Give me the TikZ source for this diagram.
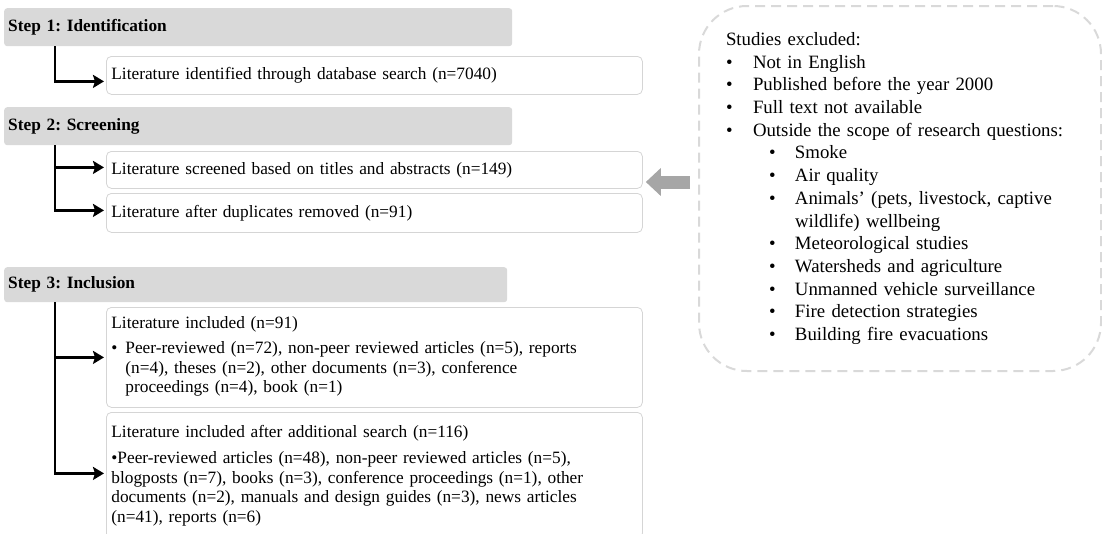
\documentclass[tikz,border=0pt]{standalone}
\usepackage{fontspec}
\setmainfont{Liberation Serif}
\usetikzlibrary{arrows.meta}
\frenchspacing

\definecolor{stepgray}{HTML}{D9D9D9}
\definecolor{boxgray}{HTML}{D5D5D5}
\definecolor{dashgray}{HTML}{D9D9D9}
\definecolor{arrowgray}{HTML}{A6A6A6}

\newcommand{\itm}{\makebox[27pt][l]{\textbullet}}
\newcommand{\subitm}{\hspace*{43pt}\makebox[26pt][l]{\textbullet}}

\begin{document}
\begin{tikzpicture}[x=1pt,y=-1pt,
    stepbar/.style={fill=stepgray,rounded corners=3pt,anchor=north west,minimum width=508pt,
      minimum height=38pt,inner xsep=4pt,text width=500pt,align=left,
      font=\fontsize{17.3}{19.5}\selectfont\bfseries},
    litbox/.style={draw=boxgray,line width=0.8pt,rounded corners=5pt,fill=white,anchor=north west,
      minimum width=536pt,minimum height=38pt,inner xsep=5pt,text width=526pt,align=left,
      font=\fontsize{17.3}{19.5}\selectfont},
    flow/.style={line width=2.5pt,-{Stealth[length=11pt,width=13pt,inset=2pt]},shorten >=2pt},
    bigarrow/.style={draw=arrowgray,line width=13pt,-{Triangle[length=15pt,width=27pt]},shorten >=3pt}]

  \useasboundingbox (0,0) rectangle (1102,533);

  \node[stepbar] (s1) at (4,8)   {Step 1: Identification};
  \node[stepbar] (s2) at (4,107) {Step 2: Screening};
  \node[stepbar,minimum width=503pt,text width=495pt,minimum height=35pt] (s3) at (4,267) {Step 3: Inclusion};

  \node[litbox] (b1) at (106,56) {Literature identified through database search (n=7040)};
  \node[litbox,minimum height=37pt] (b2) at (106,151) {Literature screened based on titles and abstracts (n=149)};
  \node[litbox,minimum height=39pt] (b3) at (106,193) {Literature after duplicates removed (n=91)};
  \node[litbox,minimum height=100pt] (b4) at (106,307) {Literature included (n=91)\\[7pt]
    \begin{tabular}{@{}l@{\hspace{8pt}}l@{}}
      \textbullet & Peer-reviewed (n=72), non-peer reviewed articles (n=5), reports\\
                  & (n=4), theses (n=2), other documents (n=3), conference\\
                  & proceedings (n=4), book (n=1)
    \end{tabular}};
  \node[litbox,minimum height=126pt] (b5) at (106,412) {Literature included after additional search (n=116)\\[7pt]
    \textbullet Peer-reviewed articles (n=48), non-peer reviewed articles (n=5),\\
    blogposts (n=7), books (n=3), conference proceedings (n=1), other\\
    documents (n=2), manuals and design guides (n=3), news articles\\
    (n=41), reports (n=6)\\[4pt]};

  \node[draw=dashgray,line width=2pt,dash pattern=on 10pt off 6pt,rounded corners=48pt,anchor=north west,
    minimum width=402pt,minimum height=365pt,inner xsep=27pt,text width=348pt,align=left,
    font=\fontsize{18.8}{22.7}\selectfont] (ex) at (698,5) {Studies excluded:\\
    \itm Not in English\\
    \itm Published before the year 2000\\
    \itm Full text not available\\
    \itm Outside the scope of research questions:\\
    \subitm Smoke\\
    \subitm Air quality\\
    \subitm Animals’ (pets, livestock, captive\\
    \hspace*{69pt}wildlife) wellbeing\\
    \subitm Meteorological studies\\
    \subitm Watersheds and agriculture\\
    \subitm Unmanned vehicle surveillance\\
    \subitm Fire detection strategies\\
    \subitm Building fire evacuations};

  \draw[flow] (s1.south west) ++(51,0) |- ([yshift=-6pt]b1.west);
  \draw[flow] (s2.south west) ++(51,0) |- ([yshift=2.5pt]b2.west);
  \draw[flow] (s2.south west) ++(51,0) |- ([yshift=2.5pt]b3.west);
  \draw[flow] (s3.south west) ++(51,0) |- (b4.west);
  \draw[flow] (s3.south west) ++(51,0) |- ([yshift=2pt]b5.west);

  \draw[bigarrow] (ex.west |- 0,182) ++(-8,0) -- (b2.east |- 0,182);

\end{tikzpicture}
\end{document}
